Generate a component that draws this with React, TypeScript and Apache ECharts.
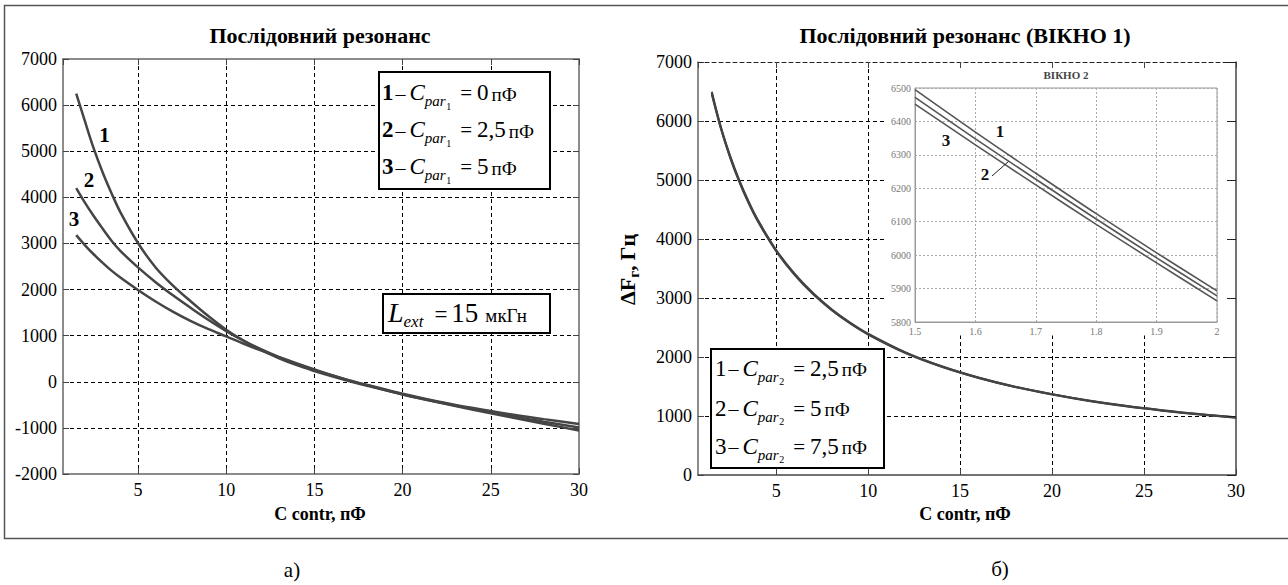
import { useEffect, useRef } from "react";
import * as echarts from "echarts";

// ---------- data ----------
// Panel a) : ΔF (Hz) vs C contr (pF), three parasitic capacitances
const C_CONTR_A = [1.5, 2, 2.5, 3, 3.5, 4, 5, 6, 7, 8, 9, 10, 11, 12, 13, 14, 15, 16, 17, 18, 20, 22, 24, 26, 28, 30];
const DF_A1 = [6250, 5640, 5050, 4540, 4090, 3680, 3010, 2480, 2080, 1740, 1420, 1130, 890, 685, 510, 360, 235, 120, 12, -88, -275, -445, -605, -760, -910, -1055];
const DF_A2 = [4200, 3880, 3590, 3320, 3060, 2840, 2480, 2160, 1870, 1600, 1340, 1100, 890, 700, 535, 390, 255, 135, 25, -75, -270, -440, -590, -735, -865, -990];
const DF_A3 = [3180, 2960, 2760, 2580, 2410, 2260, 1990, 1740, 1515, 1315, 1140, 985, 825, 675, 535, 400, 270, 145, 30, -70, -260, -425, -570, -700, -810, -915];

// Panel б) : window 1
const C_CONTR_B = [1.5, 2, 2.5, 3, 3.5, 4, 5, 6, 7, 8, 9, 10, 12, 14, 16, 18, 20, 22, 24, 26, 28, 30];
const DF_B1 = [6495, 5893, 5405, 4992, 4635, 4325, 3814, 3411, 3084, 2814, 2587, 2394, 2082, 1843, 1652, 1497, 1371, 1263, 1172, 1098, 1033, 980];
const DF_B2 = [6472, 5878, 5392, 4978, 4622, 4313, 3803, 3401, 3075, 2806, 2580, 2388, 2077, 1838, 1648, 1493, 1367, 1258, 1168, 1094, 1029, 975];
const DF_B3 = [6452, 5863, 5375, 4963, 4608, 4300, 3792, 3391, 3066, 2798, 2572, 2381, 2071, 1833, 1644, 1489, 1363, 1254, 1164, 1090, 1025, 970];

// Panel б) : window 2 (zoom)
const C_ZOOM = [1.5, 1.6, 1.7, 1.8, 1.9, 2.0];
const DF_Z1 = [6495, 6368, 6245, 6124, 6007, 5893];
const DF_Z2 = [6472, 6348, 6227, 6108, 5992, 5878];
const DF_Z3 = [6452, 6330, 6210, 6092, 5977, 5863];

// axis ranges
const X_MIN = 0.75;
const X_MAX = 30;
const X_STEP = 5;
const YA_MIN = -2000;
const YA_MAX = 7000;
const YB_MIN = 0;
const YB_MAX = 7000;
const Y_STEP = 1000;
const ZX_MIN = 1.5;
const ZX_MAX = 2;
const ZX_STEP = 0.1;
const ZY_MIN = 5800;
const ZY_MAX = 6500;
const ZY_STEP = 100;

const TITLE_A = "Послідовний резонанс";
const TITLE_B = "Послідовний резонанс (ВІКНО 1)";
const TITLE_Z = "ВІКНО 2";
const X_NAME = "C contr, пФ";

const LEG_A_VALUES = ["0", "2,5", "5"];
const LEG_B_VALUES = ["2,5", "5", "7,5"];

// ---------- helpers ----------
const F = "Liberation Serif, serif";
let _ctx: CanvasRenderingContext2D | null = null;
function mw(t: string, font: string): number {
  if (!_ctx) _ctx = document.createElement("canvas").getContext("2d");
  _ctx!.font = font;
  return _ctx!.measureText(t).width;
}
type Part = { t: string; s: number; b?: boolean; i?: boolean; dy?: number; g?: number; c?: string; k?: number };
function fontStr(p: Part) {
  return `${p.i ? "italic " : ""}${p.b ? "bold " : ""}${p.s}px ${F}`;
}
function run(x0: number, base: number, parts: Part[], z = 11, k = 1): any[] {
  const out: any[] = [];
  let x = x0;
  for (const p of parts) {
    x += p.g || 0;
    const font = fontStr(p);
    const kk = p.k ?? k;
    out.push({
      type: "text",
      x,
      y: base - 0.34 * p.s + (p.dy || 0),
      scaleX: kk,
      z,
      style: {
        text: p.t,
        font,
        fill: p.c || "#000",
        align: "left",
        verticalAlign: "middle",
        textAlign: "left",
        textVerticalAlign: "middle",
      },
    });
    x += mw(p.t, font) * kk;
  }
  return out;
}
function ctext(x: number, y: number, text: string, size: number, bold = false, fill = "#000", z = 11, italic = false) {
  return {
    type: "text",
    x,
    y,
    z,
    style: {
      text,
      font: `${italic ? "italic " : ""}${bold ? "bold " : ""}${size}px ${F}`,
      fill,
      align: "center",
      verticalAlign: "middle",
      textAlign: "center",
      textVerticalAlign: "middle",
    },
  };
}
function legendLine(x0: number, base: number, num: string, sub: string, val: string, boldNum: boolean) {
  return run(
    x0,
    base,
    [
      { t: num, s: 23, b: boldNum },
      { t: "–", s: 20, g: 2 },
      { t: "C", s: 23, i: true, g: 4 },
      { t: "par", s: 15, i: true, dy: 6 },
      { t: sub, s: 10, dy: 9, g: 0.5 },
      { t: "=", s: 21, g: 9 },
      { t: val, s: 23, g: 5 },
      { t: "пФ", s: 19, g: 3 },
    ],
    11,
    1
  );
}
const pairs = (xs: number[], ys: number[]) => xs.map((x, i) => [x, ys[i]]);

const labelStyle = { color: "#000", fontSize: 18, fontFamily: F };
const gridLine = { show: true, showMinLine: false, showMaxLine: false, lineStyle: { color: "#000", type: [4, 3] as any, width: 1 } };

export default function App() {
  const ref = useRef<HTMLDivElement>(null);
  useEffect(() => {
    if (!ref.current) return;
    const chart = echarts.init(ref.current, undefined, { renderer: "svg" });

    const lineSeries = (data: number[][], xi: number, yi: number, width: number, color: string, z = 2) => ({
      type: "line",
      data,
      xAxisIndex: xi,
      yAxisIndex: yi,
      showSymbol: false,
      symbol: "none",
      smooth: 0.35,
      z,
      lineStyle: { color, width },
      silent: true,
    });

    const graphics: any[] = [];
    // outer frame
    graphics.push({ type: "rect", shape: { x: 4.5, y: 5.5, width: 1300, height: 533 }, z: 0, style: { fill: "none", stroke: "#555", lineWidth: 1.5 } });
    // white field of window 2
    graphics.push({ type: "rect", shape: { x: 884, y: 62.5, width: 352, height: 273 }, z: 1, style: { fill: "#fff", stroke: "none" } });
    // legend boxes
    graphics.push({ type: "rect", shape: { x: 379, y: 72, width: 171, height: 117 }, z: 10, style: { fill: "#fff", stroke: "#000", lineWidth: 2 } });
    graphics.push({ type: "rect", shape: { x: 383, y: 294, width: 167, height: 39 }, z: 10, style: { fill: "#fff", stroke: "#000", lineWidth: 2 } });
    graphics.push({ type: "rect", shape: { x: 711, y: 349, width: 173, height: 119 }, z: 10, style: { fill: "#fff", stroke: "#000", lineWidth: 2 } });

    // legend texts
    const baseA = [100.5, 137.5, 174.5];
    LEG_A_VALUES.forEach((v, i) => graphics.push(...legendLine(382, baseA[i], String(i + 1), "1", v, true)));
    const baseB = [376, 416, 454];
    LEG_B_VALUES.forEach((v, i) => graphics.push(...legendLine(715, baseB[i], String(i + 1), "2", v, false)));
    graphics.push(
      ...run(
        388,
        322,
        [
          { t: "L", s: 28, i: true },
          { t: "ext", s: 17, i: true, dy: 5 },
          { t: "=", s: 23, g: 11 },
          { t: "15", s: 27, g: 4 },
          { t: "мкГн", s: 19, g: 7 },
        ],
        11,
        1
      )
    );

    // curve labels panel a
    graphics.push(ctext(104.5, 135, "1", 21, true));
    graphics.push(ctext(89, 180, "2", 21, true));
    graphics.push(ctext(74, 219, "3", 21, true));

    // window 2 labels
    graphics.push(ctext(1066, 75, TITLE_Z, 11, true, "#444", 6));
    graphics.push(ctext(1000, 131, "1", 17, true, "#111", 7));
    graphics.push(ctext(946, 140, "3", 17, true, "#111", 7));
    graphics.push(ctext(985, 174, "2", 17, true, "#111", 7));
    graphics.push({ type: "line", z: 7, shape: { x1: 992, y1: 176, x2: 1008.5, y2: 161.5 }, style: { stroke: "#222", lineWidth: 1 } });

    // titles
    graphics.push(ctext(320, 35, TITLE_A, 22, true));
    graphics.push(ctext(965, 35, TITLE_B, 22, true));
    graphics.push(ctext(320, 514, X_NAME, 18, true));
    graphics.push(ctext(965, 514, X_NAME, 18, true));
    graphics.push(ctext(292, 570, "а)", 21));
    graphics.push(ctext(1000, 569, "б)", 21));

    // y axis name of panel б) (rotated)
    graphics.push({
      type: "group",
      x: 627,
      y: 268,
      rotation: Math.PI / 2,
      z: 11,
      children: run(-37, 7.5, [
        { t: "ΔF", s: 22, b: true },
        { t: "г", s: 15, b: true, dy: 5 },
        { t: ",", s: 22, b: true },
        { t: "Гц", s: 22, b: true, g: 5 },
      ]),
    });

    const axisLineGray = { show: true, onZero: false, lineStyle: { color: "#666", width: 1.5 } };
    const tickIn = { show: true, inside: true, length: 6, lineStyle: { color: "#444" } };

    chart.setOption({
      animation: false,
      backgroundColor: "#fff",
      grid: [
        { left: 63, top: 59, width: 516, height: 415 },
        { left: 698, top: 62, width: 538, height: 413 },
        { left: 915, top: 88, width: 302, height: 234, show: true, borderColor: "#999", borderWidth: 1, z: 4 },
      ],
      xAxis: [
        {
          type: "value", gridIndex: 0, min: X_MIN, max: X_MAX, minInterval: X_STEP, maxInterval: X_STEP,
          axisLine: axisLineGray, axisTick: tickIn,
          axisLabel: { ...labelStyle, margin: 7, showMinLabel: false, formatter: (v: number) => String(v) },
          splitLine: gridLine,
        },
        {
          type: "value", gridIndex: 0, position: "top", min: X_MIN, max: X_MAX, minInterval: X_STEP, maxInterval: X_STEP,
          axisLine: axisLineGray, axisTick: tickIn, axisLabel: { show: false }, splitLine: { show: false },
        },
        {
          type: "value", gridIndex: 1, min: X_MIN, max: X_MAX, minInterval: X_STEP, maxInterval: X_STEP, z: 0,
          axisLine: { ...axisLineGray, lineStyle: { color: "#444", width: 1.5 } }, axisTick: tickIn,
          axisLabel: { ...labelStyle, margin: 7, showMinLabel: false, formatter: (v: number) => String(v) },
          splitLine: gridLine,
        },
        {
          type: "value", gridIndex: 1, position: "top", min: X_MIN, max: X_MAX, minInterval: X_STEP, maxInterval: X_STEP, z: 5,
          axisLine: { show: true, onZero: false, lineStyle: { color: "#222", width: 1, type: [4, 3] as any } },
          axisTick: tickIn, axisLabel: { show: false }, splitLine: { show: false },
        },
        {
          type: "value", gridIndex: 2, min: ZX_MIN, max: ZX_MAX, interval: ZX_STEP, z: 4,
          axisLine: { show: true, onZero: false, lineStyle: { color: "#999", width: 1 } },
          axisTick: { show: false },
          axisLabel: { color: "#777", fontSize: 10, fontFamily: F, margin: 4, formatter: (v: number) => String(Math.round(v * 10) / 10) },
          splitLine: { show: true, lineStyle: { color: "#aaa", type: [2, 2] as any, width: 1 } },
        },
      ],
      yAxis: [
        {
          type: "value", gridIndex: 0, min: YA_MIN, max: YA_MAX, interval: Y_STEP,
          axisLine: axisLineGray, axisTick: tickIn,
          axisLabel: { ...labelStyle, margin: 6, formatter: (v: number) => String(v) },
          splitLine: gridLine,
        },
        {
          type: "value", gridIndex: 0, position: "right", min: YA_MIN, max: YA_MAX, interval: Y_STEP,
          axisLine: axisLineGray, axisTick: tickIn, axisLabel: { show: false }, splitLine: { show: false },
        },
        {
          type: "value", gridIndex: 1, min: YB_MIN, max: YB_MAX, interval: Y_STEP, z: 0,
          axisLine: axisLineGray, axisTick: tickIn,
          axisLabel: { ...labelStyle, margin: 6, formatter: (v: number) => String(v) },
          splitLine: gridLine,
        },
        {
          type: "value", gridIndex: 1, position: "right", min: YB_MIN, max: YB_MAX, interval: Y_STEP, z: 5,
          axisLine: { show: true, onZero: false, lineStyle: { color: "#444", width: 1.5 } },
          axisTick: { show: true, inside: true, length: 9, lineStyle: { color: "#222" } },
          axisLabel: { show: false }, splitLine: { show: false },
        },
        {
          type: "value", gridIndex: 2, min: ZY_MIN, max: ZY_MAX, interval: ZY_STEP, z: 4,
          axisLine: { show: true, onZero: false, lineStyle: { color: "#999", width: 1 } },
          axisTick: { show: false },
          axisLabel: { color: "#777", fontSize: 10, fontFamily: F, margin: 4, formatter: (v: number) => String(v) },
          splitLine: { show: true, lineStyle: { color: "#aaa", type: [2, 2] as any, width: 1 } },
        },
      ],
      series: [
        lineSeries(pairs(C_CONTR_A, DF_A1), 0, 0, 2.5, "#454545"),
        lineSeries(pairs(C_CONTR_A, DF_A2), 0, 0, 2.5, "#454545"),
        lineSeries(pairs(C_CONTR_A, DF_A3), 0, 0, 2.5, "#454545"),
        lineSeries(pairs(C_CONTR_B, DF_B1), 2, 2, 2, "#444"),
        lineSeries(pairs(C_CONTR_B, DF_B2), 2, 2, 2, "#444"),
        lineSeries(pairs(C_CONTR_B, DF_B3), 2, 2, 2, "#444"),
        lineSeries(pairs(C_ZOOM, DF_Z1), 4, 4, 1.6, "#555", 6),
        lineSeries(pairs(C_ZOOM, DF_Z2), 4, 4, 1.6, "#555", 6),
        lineSeries(pairs(C_ZOOM, DF_Z3), 4, 4, 1.6, "#555", 6),
      ],
      graphic: { elements: graphics },
    });
    return () => chart.dispose();
  }, []);
  return (
    <div
      ref={ref}
      style={{ position: "absolute", left: 0, top: 0, width: 1288, height: 585, background: "#fff" }}
    />
  );
}
